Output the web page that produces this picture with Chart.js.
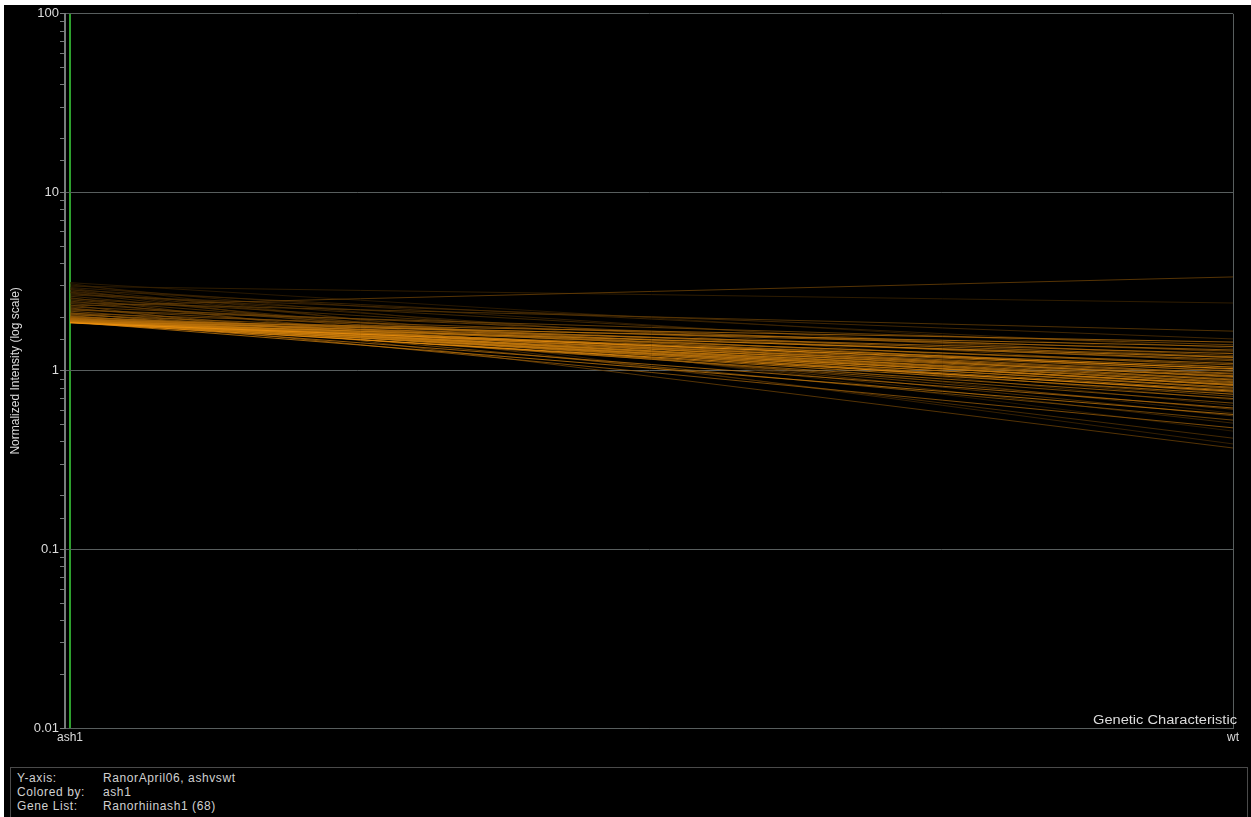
<!DOCTYPE html>
<html>
<head>
<meta charset="utf-8">
<script src="https://cdn.jsdelivr.net/npm/chart.js@4.4.1/dist/chart.umd.min.js"></script>
<style>
  html, body { margin: 0; padding: 0; background: #fff; overflow: hidden; }
  #frame { position: absolute; left: 4px; top: 5px; right: 0; bottom: 0; background: #000; }
  #chart { position: absolute; left: 0; top: 0; }
  #info {
    position: absolute; left: 6px; top: 762px; width: 1236px; height: 80px;
    border: 1px solid #4a4a4a; color: #d0d0d0;
    font: 12px "Liberation Sans", Arial, sans-serif; letter-spacing: 0.6px;
  }
  .row { position: absolute; left: 6px; height: 14px; line-height: 14px; }
  .row span { position: absolute; left: 86px; white-space: nowrap; }
</style>
</head>
<body>
<div id="frame">
  <canvas id="chart" width="1247" height="755"></canvas>
  <div id="info">
    <div class="row" style="top:3px">Y-axis:<span>RanorApril06, ashvswt</span></div>
    <div class="row" style="top:17px">Colored by:<span>ash1</span></div>
    <div class="row" style="top:31px">Gene List:<span>Ranorhiinash1 (68)</span></div>
  </div>
</div>
<script>
// conditions along the x axis
const conditions = ['ash1', 'wt'];

// normalized intensity of each gene in the list, per condition
const ash1Values = [
  3.12, 3.08, 3.03, 2.98, 2.93, 2.90, 2.86, 2.84, 2.80, 2.76, 2.74, 2.70,
  2.66, 2.62, 2.57, 2.54, 2.50, 2.46, 2.41, 2.38, 2.34, 2.31, 2.28, 2.25,
  2.22, 2.19, 2.16, 2.12, 2.10, 2.08, 2.06, 2.04, 2.02, 2.01, 2.00, 1.99,
  1.98, 1.97, 1.97, 1.96, 1.96, 1.95, 1.95, 1.94, 1.94, 1.93, 1.93, 1.93,
  1.92, 1.92, 1.92, 1.91, 1.91, 1.91, 1.90, 1.90, 1.90, 1.89, 1.89, 1.89,
  1.88, 1.88, 1.88, 1.87, 1.87, 1.87, 1.86, 1.86
];
const wtValues = [
  1.26, 0.46, 0.74, 2.40, 1.11, 0.58, 0.39, 1.34, 0.64, 0.94, 0.51, 1.18,
  1.51, 0.69, 0.42, 1.05, 0.79, 0.56, 1.67, 0.88, 0.37, 3.36, 1.22, 0.61,
  0.99, 1.40, 0.72, 0.53, 1.29, 0.85, 1.14, 0.66, 0.92, 1.02, 0.48, 1.20,
  0.83, 0.76, 1.08, 0.90, 0.835, 1.31, 0.97, 0.80, 1.16, 0.87, 0.70, 1.00,
  0.83, 1.45, 0.94, 0.78, 1.10, 0.86, 0.62, 1.25, 0.96, 0.81, 1.37, 0.74,
  1.05, 0.89, 0.57, 0.84, 1.19, 0.93, 0.77, 1.03
];

// y axis: decades that get a label and a grid line
const decadeLabels = ['0.01', '0.1', '1', '10', '100'];

const gridGray = 'rgb(88, 94, 94)';
const textGray = '#dcdcdc';
const fontFamily = '"Liberation Sans", Arial, sans-serif';

// lines are coloured by their ash1 value: low = bright orange, high = dark brown
function lineColor(v) {
  const t = Math.min(1, Math.max(0, (v - 1.86) / 1.3));
  const k = 1 - 0.8 * Math.pow(t, 0.35);
  return `rgb(${Math.round(240 * k)}, ${Math.round(146 * k)}, ${Math.round(14 * k)})`;
}

function isDecade(v) {
  const l = Math.log10(v);
  return Math.abs(l - Math.round(l)) < 1e-6;
}

const datasets = ash1Values.map((a, i) => ({
  label: 'gene ' + (i + 1),
  data: [{ x: 0, y: a }, { x: 1, y: wtValues[i] }],
  borderColor: lineColor(a),
  borderWidth: 0.8,
  pointRadius: 0,
  tension: 0,
  order: a
}));

// "Genetic Characteristic" caption in the lower right of the plot
const captionPlugin = {
  id: 'caption',
  afterDraw(chart) {
    const ctx = chart.ctx;
    const area = chart.chartArea;
    ctx.save();
    ctx.font = '12px ' + fontFamily;
    ctx.fillStyle = textGray;
    ctx.textAlign = 'right';
    ctx.textBaseline = 'alphabetic';
    ctx.translate(area.right + 4, area.bottom - 4);
    ctx.scale(1.22, 1);
    ctx.fillText('Genetic Characteristic', 0, 0);
    ctx.restore();
  }
};

const ctx = document.getElementById('chart').getContext('2d');
new Chart(ctx, {
  type: 'line',
  data: { datasets: datasets },
  options: {
    responsive: false,
    animation: false,
    layout: { padding: { top: 8, right: 18, left: 0, bottom: 0 } },
    plugins: { legend: { display: false }, tooltip: { enabled: false } },
    scales: {
      x: {
        type: 'linear',
        min: -0.0043,
        max: 1,
        afterBuildTicks: scale => { scale.ticks = conditions.map((c, i) => ({ value: i })); },
        afterFit: scale => { scale.height = 32; },
        ticks: {
          autoSkip: false,
          maxRotation: 0,
          padding: 2,
          color: textGray,
          font: { size: 12, family: fontFamily },
          callback: v => conditions[v]
        },
        grid: {
          drawTicks: false,
          color: c => (c.tick && c.tick.value === 0) ? 'rgb(46, 160, 46)' : gridGray,
          lineWidth: c => (c.tick && c.tick.value === 0) ? 2 : 1
        },
        border: { color: gridGray, width: 1 }
      },
      y: {
        type: 'logarithmic',
        min: 0.01,
        max: 100,
        afterFit: scale => { scale.width = 61; },
        title: {
          display: true,
          text: 'Normalized Intensity (log scale)',
          color: textGray,
          font: { size: 12, family: fontFamily },
          padding: { top: 4, bottom: 0 }
        },
        ticks: {
          autoSkip: false,
          padding: 1,
          color: textGray,
          font: { size: 13, family: fontFamily },
          callback: v => isDecade(v) ? decadeLabels[Math.round(Math.log10(v)) + 2] : ''
        },
        grid: {
          color: c => (c.tick && isDecade(c.tick.value)) ? gridGray : 'rgba(0,0,0,0)',
          tickColor: 'rgb(120, 124, 124)',
          tickLength: 5
        },
        border: { color: 'rgb(120, 124, 124)', width: 2 }
      }
    }
  },
  plugins: [captionPlugin]
});
</script>
</body>
</html>
